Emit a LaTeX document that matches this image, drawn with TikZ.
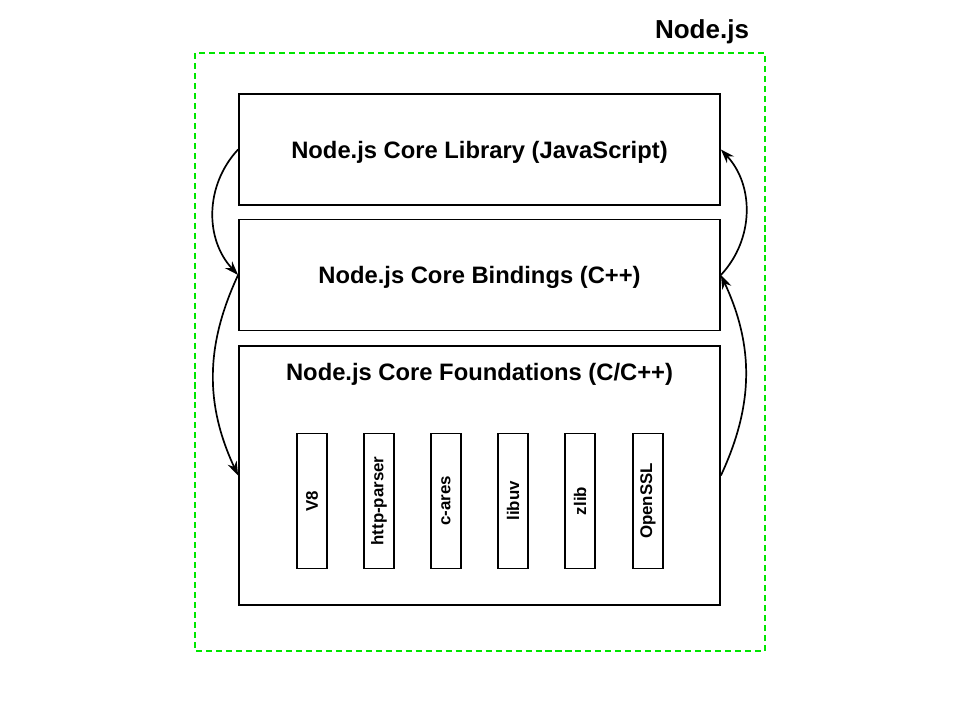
\documentclass[tikz,border=0pt]{standalone}
\usepackage{fontspec}
\setmainfont{Liberation Sans}
\usetikzlibrary{arrows.meta}
\definecolor{nodegreen}{RGB}{0,230,0}
\tikzset{
  layer/.style={draw, line width=1.2pt, minimum width=12.025cm, minimum height=2.775cm,
    text depth=0pt, font=\bfseries\fontsize{16.9}{20}\selectfont},
  dep/.style={draw, line width=1.1pt, rotate=90, minimum width=3.375cm, minimum height=0.75cm,
    inner sep=0pt, font=\bfseries\fontsize{12}{14}\selectfont},
  call/.style={-{Stealth[length=10pt,width=7pt]}, line width=1.2pt},
}
\begin{document}
\begin{tikzpicture}[x=0.025cm,y=-0.025cm]
  \useasboundingbox (0,0) rectangle (960,720);
  \draw[nodegreen, line width=1.4pt, dash pattern=on 4.3pt off 2.8pt]
    (195,53) rectangle (765,651);
  \node[font=\bfseries\fontsize{18.5}{22}\selectfont] (nodejs) at (702,32) {Node.js};
  \node[layer] (lib) at (479.5,149.5) {Node.js Core Library (JavaScript)};
  \node[layer] (bind) at (479.5,275) {Node.js Core Bindings (C++)};
  \node[layer, minimum height=6.475cm] (found) at (479.5,475.5) {};
  \node[font=\bfseries\fontsize{16.9}{20}\selectfont, text depth=0pt] (foundtitle) at (479.5,372)
    {Node.js Core Foundations (C/C++)};
  \node[dep] (v8) at (312,501) {V8};
  \node[dep] (http) at (379,501) {http-parser};
  \node[dep] (cares) at (446,501) {c-ares};
  \node[dep] (libuv) at (513,501) {libuv};
  \node[dep] (zlib) at (580,501) {zlib};
  \node[dep] (ssl) at (648,501) {OpenSSL};
  \begin{scope}[call]
    \draw (lib.west) to[bend right=43] (bind.west);
    \draw (bind.west) to[bend right=25] (found.west);
    \draw (found.east) to[bend right=25] (bind.east);
    \draw (bind.east) to[bend right=43] (lib.east);
  \end{scope}
\end{tikzpicture}
\end{document}
